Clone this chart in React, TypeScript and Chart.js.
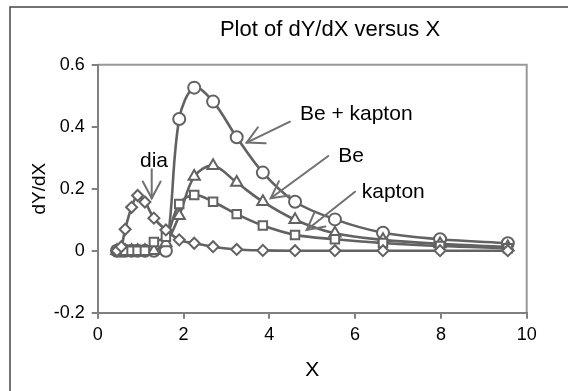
import React, { useEffect, useRef } from "react";
import { Chart, registerables } from "chart.js";

Chart.register(...registerables);

// X positions shared by all four curves
const xValues = [0.45, 0.55, 0.64, 0.79, 0.93, 1.1, 1.31, 1.59, 1.9, 2.25, 2.69, 3.24, 3.85, 4.6, 5.53, 6.65, 7.98, 9.56];

// dY/dX for each configuration
const beKapton = [0, 0, 0, 0, 0, 0, 0, 0, 0.425, 0.526, 0.481, 0.366, 0.252, 0.158, 0.101, 0.058, 0.037, 0.024];
const be = [0, 0, 0, 0, 0, 0, 0, 0.025, 0.113, 0.239, 0.274, 0.22, 0.158, 0.1, 0.056, 0.035, 0.022, 0.012];
const kapton = [0, 0, 0, 0, 0, 0, 0.028, 0.045, 0.151, 0.18, 0.158, 0.118, 0.081, 0.051, 0.037, 0.025, 0.015, 0.008];
const dia = [0, 0.013, 0.069, 0.14, 0.178, 0.157, 0.105, 0.067, 0.035, 0.024, 0.013, 0.004, 0.001, 0, 0, 0, 0, 0];

const xTicks = { min: 0, max: 10, step: 2 };
const yTicks = { min: -0.2, max: 0.6, step: 0.2 };

const titleText = "Plot of dY/dX versus X";
const xTitle = "X";
const yTitle = "dY/dX";

// Callout labels with arrows, in data units: text anchor, arrow tail, arrow tip
const calloutText = ["Be + kapton", "Be", "kapton", "dia"];
const calloutTextAt = [
  [4.713, 0.4216],
  [5.608, 0.2871],
  [6.154, 0.169],
  [0.986, 0.269],
];
const calloutTail = [
  [4.483, 0.4161],
  [5.375, 0.3055],
  [5.998, 0.1903],
  [1.259, 0.2626],
];
const calloutTip = [
  [3.473, 0.3487],
  [4.033, 0.169],
  [4.872, 0.0668],
  [1.259, 0.169],
];

const FONT = "'Liberation Sans', Arial, sans-serif";
const LINE = "#626262";
const AXIS = "#808080";

function pts(ys: number[]) {
  return xValues.map((x, i) => ({ x, y: ys[i] }));
}

function series(label: string, ys: number[], pointStyle: string, radius: number) {
  return {
    label,
    data: pts(ys),
    borderColor: LINE,
    backgroundColor: "#ffffff",
    borderWidth: 2.6,
    tension: 0.35,
    pointStyle,
    pointRadius: radius,
    pointBorderWidth: 2,
    pointBorderColor: LINE,
    pointBackgroundColor: "#ffffff",
    fill: false,
  };
}

function drawArrow(ctx: CanvasRenderingContext2D, x1: number, y1: number, x2: number, y2: number) {
  ctx.beginPath();
  ctx.moveTo(x1, y1);
  ctx.lineTo(x2, y2);
  ctx.stroke();
  const ang = Math.atan2(y1 - y2, x1 - x2);
  const len = 19;
  const spread = (28 * Math.PI) / 180;
  ctx.beginPath();
  ctx.moveTo(x2 + len * Math.cos(ang + spread), y2 + len * Math.sin(ang + spread));
  ctx.lineTo(x2, y2);
  ctx.lineTo(x2 + len * Math.cos(ang - spread), y2 + len * Math.sin(ang - spread));
  ctx.stroke();
}

const decorPlugin = {
  id: "decor",
  beforeDraw(chart: any) {
    const { ctx, chartArea } = chart;
    ctx.save();
    ctx.fillStyle = "#ffffff";
    ctx.fillRect(0, 0, chart.width, chart.height);
    // outer chart frame
    ctx.strokeStyle = "#444444";
    ctx.lineWidth = 1.5;
    ctx.beginPath();
    ctx.moveTo(10, chart.height);
    ctx.lineTo(10, 7);
    ctx.lineTo(chart.width, 7);
    ctx.stroke();
    // plot frame (top and right)
    ctx.strokeStyle = "#999999";
    ctx.lineWidth = 2;
    ctx.beginPath();
    ctx.moveTo(chartArea.left, chartArea.top);
    ctx.lineTo(chartArea.right, chartArea.top);
    ctx.lineTo(chartArea.right, chartArea.bottom);
    ctx.stroke();
    // title
    ctx.fillStyle = "#000000";
    ctx.font = `22px ${FONT}`;
    ctx.textAlign = "center";
    ctx.textBaseline = "middle";
    ctx.fillText(titleText, 330, 30);
    ctx.restore();
  },
  afterDraw(chart: any) {
    const { ctx } = chart;
    const xs = chart.scales.x;
    const ys = chart.scales.y;
    ctx.save();
    ctx.strokeStyle = "#707070";
    ctx.lineWidth = 2;
    ctx.lineCap = "round";
    for (let i = 0; i < calloutText.length; i++) {
      drawArrow(
        ctx,
        xs.getPixelForValue(calloutTail[i][0]),
        ys.getPixelForValue(calloutTail[i][1]),
        xs.getPixelForValue(calloutTip[i][0]),
        ys.getPixelForValue(calloutTip[i][1])
      );
    }
    ctx.fillStyle = "#000000";
    ctx.font = `21px ${FONT}`;
    ctx.textAlign = "left";
    ctx.textBaseline = "alphabetic";
    for (let i = 0; i < calloutText.length; i++) {
      ctx.fillText(
        calloutText[i],
        xs.getPixelForValue(calloutTextAt[i][0]),
        ys.getPixelForValue(calloutTextAt[i][1])
      );
    }
    ctx.restore();
  },
};

export default function App() {
  const ref = useRef<HTMLCanvasElement | null>(null);

  useEffect(() => {
    if (!ref.current) return;
    const chart = new Chart(ref.current, {
      type: "line",
      data: {
        datasets: [
          series("dia", dia, "rectRot", 5.5),
          series("kapton", kapton, "rect", 6),
          series("Be", be, "triangle", 6.5),
          series("Be + kapton", beKapton, "circle", 6),
        ] as any,
      },
      options: {
        responsive: false,
        animation: false,
        devicePixelRatio: 1,
        layout: { padding: { left: 0, top: 64.7, right: 41.3, bottom: 0 } },
        plugins: {
          legend: { display: false },
          title: { display: false },
          tooltip: { enabled: false },
        },
        scales: {
          x: {
            type: "linear",
            min: xTicks.min,
            max: xTicks.max,
            ticks: {
              stepSize: xTicks.step,
              color: "#000000",
              font: { family: FONT, size: 18 },
              padding: 6,
              maxRotation: 0,
            },
            grid: { drawOnChartArea: false, drawTicks: true, tickLength: 6, color: AXIS, lineWidth: 2 },
            border: { color: AXIS, width: 2 },
            title: {
              display: true,
              text: xTitle,
              color: "#000000",
              font: { family: FONT, size: 21 },
              padding: { top: 0, bottom: 8 },
            },
            afterFit: (s: any) => {
              s.height = 78.3;
            },
          },
          y: {
            type: "linear",
            min: yTicks.min,
            max: yTicks.max,
            ticks: {
              stepSize: yTicks.step,
              color: "#000000",
              font: { family: FONT, size: 18 },
              padding: 7,
            },
            grid: { drawOnChartArea: false, drawTicks: true, tickLength: 6, color: AXIS, lineWidth: 2 },
            border: { color: AXIS, width: 2 },
            title: {
              display: true,
              text: yTitle,
              color: "#000000",
              font: { family: FONT, size: 19 },
              padding: { top: 28, bottom: 0 },
            },
            afterFit: (s: any) => {
              s.width = 97.7;
            },
          },
        },
      } as any,
      plugins: [decorPlugin],
    });
    return () => chart.destroy();
  }, []);

  return (
    <div style={{ position: "fixed", left: 0, top: 0, width: 568, height: 391, background: "#fff" }}>
      <canvas ref={ref} width={568} height={391} style={{ width: 568, height: 391, display: "block" }} />
    </div>
  );
}
